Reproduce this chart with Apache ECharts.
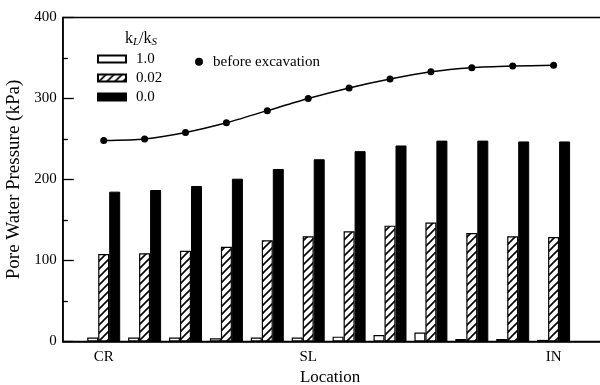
<!DOCTYPE html>
<html>
<head>
<meta charset="utf-8">
<script src="https://cdn.jsdelivr.net/npm/echarts@6/dist/echarts.min.js"></script>
<style>html,body{margin:0;padding:0;background:#fff}#c{width:600px;height:385px}</style>
</head>
<body>
<div id="c"></div>
<script>
// ---- data ----
const locationLabels = ['CR','','','','','SL','','','','','','IN'];
const ratio10  = [5, 5, 5, 4, 5, 5, 6, 8, 11, 3, 3, 2];
const ratio002 = [108, 109, 112, 117, 125, 130, 136, 143, 147, 134, 130, 129];
const ratio00  = [185, 187, 192, 201, 213, 225, 235, 242, 248, 248, 247, 247];
const beforeExcavation = [248, 250, 258, 270, 285, 300, 313, 324, 333, 338, 340, 341];
const seriesNames = ['1.0', '0.02', '0.0', 'before excavation'];
const yTicks = [0, 100, 200, 300, 400];

const FONT = "'Liberation Serif', 'Times New Roman', serif";

// hatch pattern
const tile = document.createElement('canvas');
tile.width = 8; tile.height = 8;
const g = tile.getContext('2d');
g.fillStyle = '#fff'; g.fillRect(0,0,8,8);
g.strokeStyle = '#000'; g.lineWidth = 1.6;
g.beginPath();
g.moveTo(-1,9); g.lineTo(9,-1);
g.moveTo(-1,1); g.lineTo(1,-1);
g.moveTo(7,9); g.lineTo(9,7);
g.stroke();

const toXY = arr => arr.map((v, i) => [i + 1, v]);

const chart = echarts.init(document.getElementById('c'), null, {renderer: 'canvas'});
chart.setOption({
  animation: false,
  backgroundColor: '#fff',
  textStyle: {fontFamily: FONT, color: '#000'},
  grid: {
    left: 62.8, top: 17.5, bottom: 43.5, right: -35.4,
    show: true, borderColor: '#000', borderWidth: 1.5,
    containLabel: false, outerBoundsMode: 'none'
  },
  title: {
    left: 120, top: 25,
    text: '{k|k}{s|L}{k|/k}{s|S}',
    textStyle: {
      fontWeight: 'normal',
      rich: {
        k: {fontFamily: FONT, fontSize: 16, fontWeight: 'normal', color: '#000', lineHeight: 18},
        s: {fontFamily: FONT, fontSize: 11, fontWeight: 'normal', fontStyle: 'italic', color: '#000', lineHeight: 11, verticalAlign: 'bottom', padding: [7, 0, 0, 0]}
      }
    }
  },
  legend: [
    {
      data: seriesNames.slice(0, 3),
      orient: 'vertical', left: 92, top: 46,
      itemWidth: 28, itemHeight: 7, itemGap: 3,
      icon: 'rect', selectedMode: false,
      textStyle: {fontFamily: FONT, fontSize: 15, color: '#000', lineHeight: 16, padding: [0, 0, 0, 5]}
    },
    {
      data: [seriesNames[3]],
      orient: 'vertical', left: 190, top: 48.7,
      itemWidth: 8, itemHeight: 8, icon: 'circle', selectedMode: false,
      textStyle: {fontFamily: FONT, fontSize: 15, color: '#000', lineHeight: 16, padding: [0, 0, 0, 5]}
    }
  ],
  xAxis: {
    type: 'value', min: 0, max: 14, interval: 1,
    name: 'Location', nameLocation: 'middle', nameGap: 26,
    nameTextStyle: {fontFamily: FONT, fontSize: 17, color: '#000', padding: [0, 38, 0, 0]},
    axisLine: {show: true, onZero: false, lineStyle: {color: '#000', width: 1.5}},
    axisTick: {show: false},
    splitLine: {show: false},
    axisLabel: {
      margin: 8, fontFamily: FONT, fontSize: 15, color: '#000',
      showMinLabel: true, showMaxLabel: true, hideOverlap: false,
      formatter: v => locationLabels[v - 1] || ''
    }
  },
  yAxis: {
    type: 'value', min: yTicks[0], max: yTicks[yTicks.length - 1], interval: 100,
    name: 'Pore Water Pressure (kPa)', nameLocation: 'middle', nameGap: 37,
    nameTextStyle: {fontFamily: FONT, fontSize: 19, color: '#000'},
    axisLine: {show: true, lineStyle: {color: '#000', width: 1.5}},
    axisTick: {show: true, inside: true, length: 11, lineStyle: {color: '#000', width: 1.3}},
    minorTick: {show: true, splitNumber: 2, length: 5, lineStyle: {color: '#000', width: 1.3}},
    splitLine: {show: false},
    axisLabel: {margin: 6, fontFamily: FONT, fontSize: 15, color: '#000'}
  },
  series: [
    {
      name: seriesNames[0], type: 'bar', data: toXY(ratio10),
      barWidth: 11, barGap: '0%',
      itemStyle: {color: '#fff', borderColor: '#000', borderWidth: 1.2}
    },
    {
      name: seriesNames[1], type: 'bar', data: toXY(ratio002),
      barWidth: 11, barGap: '0%',
      itemStyle: {color: {image: tile, repeat: 'repeat'}, borderColor: '#000', borderWidth: 1.2}
    },
    {
      name: seriesNames[2], type: 'bar', data: toXY(ratio00),
      barWidth: 11, barGap: '0%',
      itemStyle: {color: '#000', borderColor: '#000', borderWidth: 1}
    },
    {
      name: seriesNames[3], type: 'line', data: toXY(beforeExcavation),
      smooth: 0.25, symbol: 'circle', symbolSize: 7,
      lineStyle: {color: '#000', width: 1.5},
      itemStyle: {color: '#000'}
    }
  ]
});
</script>
</body>
</html>
